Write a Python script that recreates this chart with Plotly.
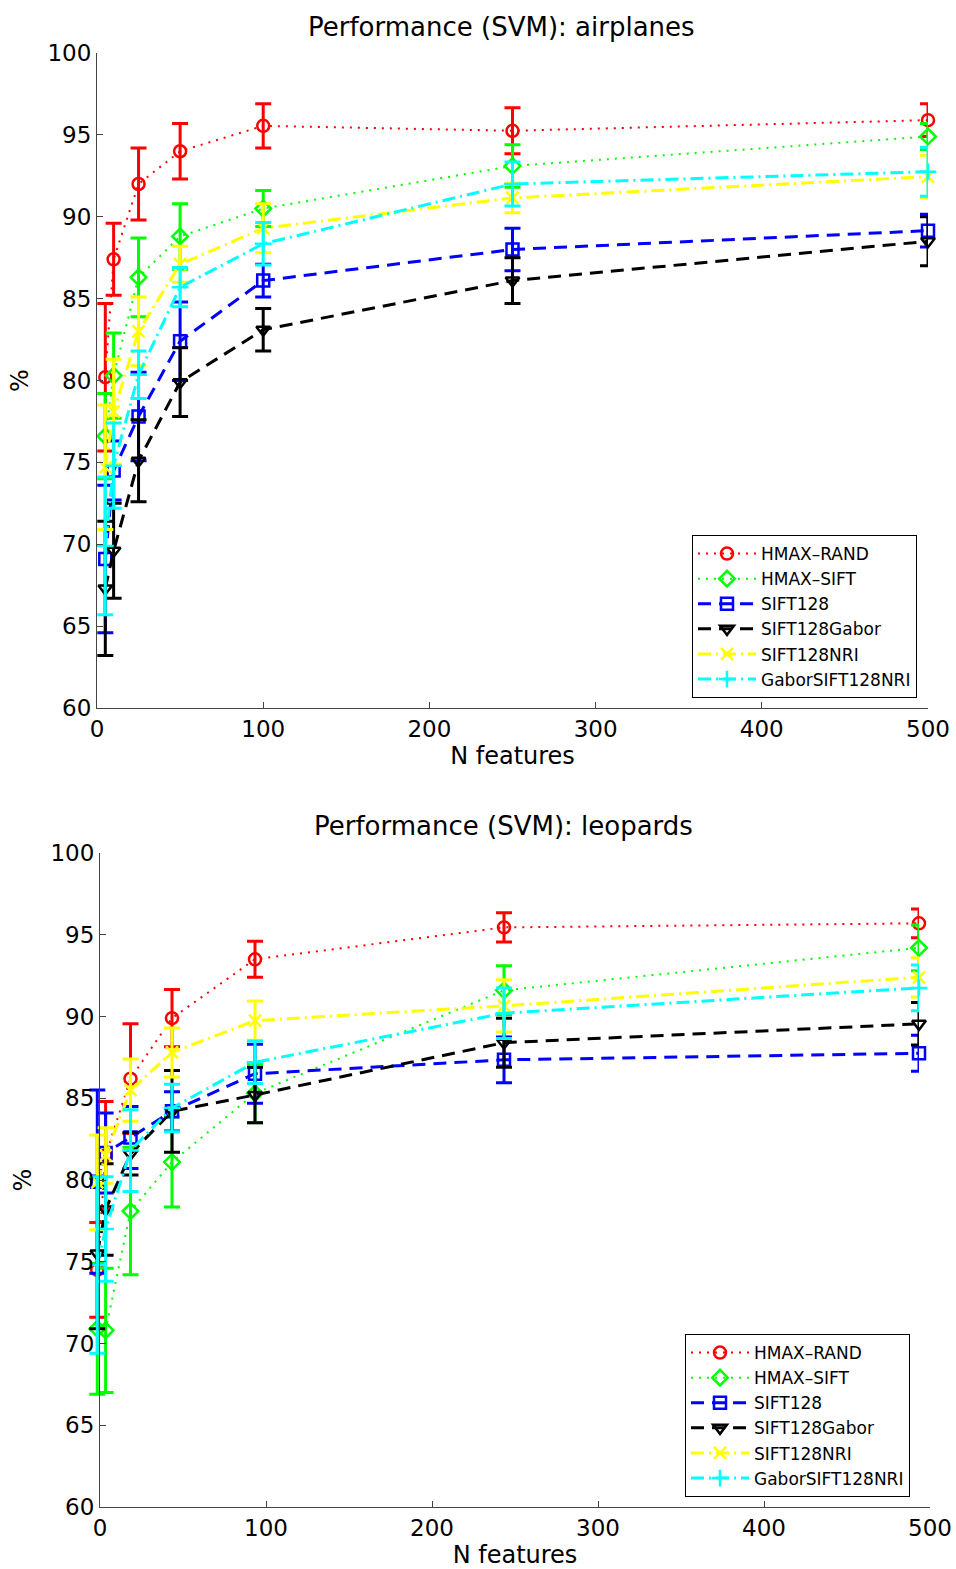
import plotly.graph_objects as go

# Number of features used by the classifier
n_features = [5, 10, 25, 50, 100, 250, 500]

series_names = ["HMAX\u2013RAND", "HMAX\u2013SIFT", "SIFT128", "SIFT128Gabor",
                "SIFT128NRI", "GaborSIFT128NRI"]

# Airplanes: mean accuracy (%) and error half-width
air_hmax_rand = [80.2, 87.4, 92.0, 94.0, 95.55, 95.25, 95.9]
air_hmax_rand_err = [4.5, 2.2, 2.2, 1.7, 1.35, 1.4, 1.0]
air_hmax_sift = [76.6, 80.3, 86.3, 88.8, 90.5, 93.1, 94.9]
air_hmax_sift_err = [2.6, 2.6, 2.4, 2.0, 1.1, 1.3, 0.8]
air_sift128 = [69.1, 74.5, 77.8, 82.4, 86.1, 88.0, 89.15]
air_sift128_err = [4.5, 1.8, 2.7, 2.4, 1.0, 1.3, 1.0]
air_sift128gabor = [67.3, 69.6, 75.1, 79.9, 83.1, 86.1, 88.5]
air_sift128gabor_err = [4.1, 2.9, 2.5, 2.1, 1.3, 1.4, 1.5]
air_sift128nri = [74.7, 78.1, 83.0, 87.1, 89.3, 91.15, 92.45]
air_sift128nri_err = [3.8, 3.2, 2.1, 1.1, 1.5, 0.9, 1.3]
air_gaborsift128nri = [69.9, 74.8, 80.35, 85.7, 88.35, 92.0, 92.75]
air_gaborsift128nri_err = [4.2, 2.6, 1.45, 1.2, 1.3, 1.35, 1.5]

# Leopards: mean accuracy (%) and error half-width
leo_hmax_rand = [74.5, 81.5, 86.2, 89.9, 93.5, 95.45, 95.7]
leo_hmax_rand_err = [2.9, 3.3, 3.35, 1.75, 1.1, 0.9, 0.88]
leo_hmax_sift = [70.9, 70.8, 78.1, 81.1, 85.3, 91.6, 94.2]
leo_hmax_sift_err = [4.0, 3.8, 3.9, 2.75, 1.8, 1.5, 1.4]
leo_sift128 = [79.9, 81.65, 82.6, 84.2, 86.5, 87.35, 87.75]
leo_sift128_err = [5.6, 2.45, 1.9, 1.2, 1.8, 1.4, 1.1]
leo_sift128gabor = [75.5, 78.2, 81.6, 84.2, 85.2, 88.4, 89.55]
leo_sift128gabor_err = [4.6, 2.8, 1.3, 2.5, 1.7, 1.5, 1.3]
leo_sift128nri = [79.85, 81.5, 85.5, 87.8, 89.75, 90.65, 92.4]
leo_sift128nri_err = [2.9, 1.7, 1.9, 1.5, 1.2, 1.6, 1.2]
leo_gaborsift128nri = [74.8, 77.0, 81.8, 84.4, 87.2, 90.2, 91.75]
leo_gaborsift128nri_err = [5.4, 3.2, 2.5, 1.45, 1.3, 1.55, 1.4]

x_ticks = [0, 100, 200, 300, 400, 500]
y_ticks = [60, 65, 70, 75, 80, 85, 90, 95, 100]

# Per-series look: colour, line dash, line width, marker symbol
styles = [
    dict(color="#ff0000", dash="2px,6px", lw=2, symbol="circle-open"),
    dict(color="#00ff00", dash="2px,6px", lw=2, symbol="diamond-open"),
    dict(color="#0000ff", dash="13px,8px", lw=3, symbol="square-open"),
    dict(color="#000000", dash="13px,8px", lw=3, symbol="triangle-down-open"),
    dict(color="#ffff00", dash="13px,5px,2px,5px", lw=3, symbol="x-thin"),
    dict(color="#00ffff", dash="13px,5px,2px,5px", lw=3, symbol="cross-thin"),
]

airplanes = [
    (air_hmax_rand, air_hmax_rand_err),
    (air_hmax_sift, air_hmax_sift_err),
    (air_sift128, air_sift128_err),
    (air_sift128gabor, air_sift128gabor_err),
    (air_sift128nri, air_sift128nri_err),
    (air_gaborsift128nri, air_gaborsift128nri_err),
]
leopards = [
    (leo_hmax_rand, leo_hmax_rand_err),
    (leo_hmax_sift, leo_hmax_sift_err),
    (leo_sift128, leo_sift128_err),
    (leo_sift128gabor, leo_sift128gabor_err),
    (leo_sift128nri, leo_sift128nri_err),
    (leo_gaborsift128nri, leo_gaborsift128nri_err),
]

W, H = 956, 1569
FONT = "DejaVu Sans"

fig = go.Figure()

# Empty trace so the lower frame axes get their own subplot (drawn first)
fig.add_trace(go.Scatter(x=[], y=[], xaxis="x3", yaxis="y3",
                         showlegend=False, hoverinfo="skip"))


def add_series(data, xa, ya, legend):
    for name, (vals, errs), st in zip(series_names, data, styles):
        fig.add_trace(go.Scatter(
            x=n_features, y=vals, name=name, mode="lines+markers",
            xaxis=xa, yaxis=ya, legend=legend, cliponaxis=False,
            line=dict(color=st["color"], dash=st["dash"], width=st["lw"]),
            marker=dict(symbol=st["symbol"], size=12, color=st["color"],
                        line=dict(color=st["color"], width=2.5)),
            error_y=dict(type="data", array=errs, visible=True,
                         color=st["color"], thickness=3, width=8),
        ))


add_series(airplanes, "x", "y", "legend")
add_series(leopards, "x2", "y2", "legend2")

axis_common = dict(
    showline=True, linecolor="#444", linewidth=1, ticks="inside",
    ticklen=6, tickcolor="#444", showgrid=False, zeroline=False,
    mirror=False, automargin=False,
    tickfont=dict(family=FONT, size=23, color="black"),
)


def px_x(p):
    return p / W


def px_y(p):
    return 1 - p / H


lower_y = [px_y(1507), px_y(853)]

fig.update_layout(
    template="none",
    width=W, height=H,
    margin=dict(l=0, r=0, t=0, b=0),
    paper_bgcolor="white", plot_bgcolor="rgba(0,0,0,0)",
    font=dict(family=FONT, color="black"),
    xaxis=dict(domain=[px_x(97), px_x(928)], range=[0, 500], anchor="y",
               tickvals=x_ticks,
               title=dict(text="N features", font=dict(size=24), standoff=2),
               **axis_common),
    yaxis=dict(domain=[px_y(708), px_y(53)], range=[60, 100], anchor="x",
               tickvals=y_ticks,
               title=dict(text="%", font=dict(size=24), standoff=12),
               **axis_common),
    # data axes of the lower panel (not drawn)
    xaxis2=dict(domain=[px_x(89), px_x(919)], range=[0, 500], anchor="y2",
                visible=False, automargin=False),
    yaxis2=dict(domain=lower_y, range=[60, 100], anchor="x2",
                visible=False, automargin=False),
    # drawn frame of the lower panel
    xaxis3=dict(domain=[px_x(100), px_x(930)], range=[0, 500], anchor="y3",
                tickvals=x_ticks,
                title=dict(text="N features", font=dict(size=24), standoff=2),
                **axis_common),
    yaxis3=dict(domain=lower_y, range=[60, 100], anchor="x3",
                tickvals=y_ticks,
                title=dict(text="%", font=dict(size=24), standoff=12),
                **axis_common),
    legend=dict(x=px_x(917), xanchor="right", y=px_y(698), yanchor="bottom",
                bgcolor="white", bordercolor="black", borderwidth=1,
                font=dict(family=FONT, size=17), tracegroupgap=0,
                itemwidth=58),
    legend2=dict(x=px_x(910), xanchor="right", y=px_y(1497), yanchor="bottom",
                 bgcolor="white", bordercolor="black", borderwidth=1,
                 font=dict(family=FONT, size=17), tracegroupgap=0,
                 itemwidth=58),
    annotations=[
        dict(text="Performance (SVM): airplanes", x=px_x(502), y=px_y(27),
             xref="paper", yref="paper", showarrow=False, yanchor="middle",
             font=dict(family=FONT, size=26, color="black")),
        dict(text="Performance (SVM): leopards", x=px_x(503), y=px_y(826),
             xref="paper", yref="paper", showarrow=False, yanchor="middle",
             font=dict(family=FONT, size=26, color="black")),
    ],
)

fig.write_html("out.html")
